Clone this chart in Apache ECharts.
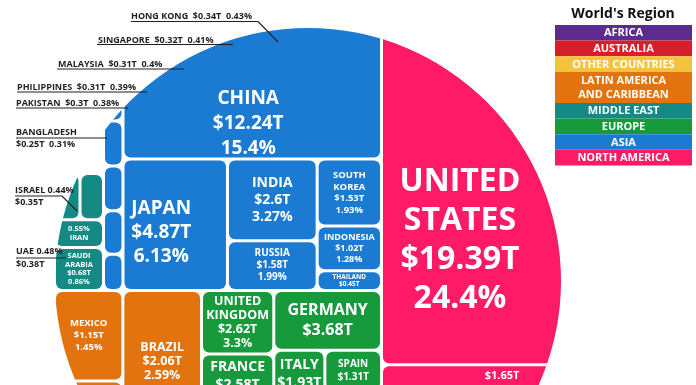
<!DOCTYPE html>
<html><head><meta charset="utf-8">
<script src="https://cdn.jsdelivr.net/npm/echarts@6/dist/echarts.min.js"></script>
<style>html,body{margin:0;padding:0;background:#fff}#c{width:696px;height:385px}</style>
</head><body><div id="c"></div>
<script>
// ---------- DATA (GDP in trillions of US$, share of world GDP in %) ----------
const asiaNames   = ['Hong Kong','Singapore','Malaysia','Philippines','Pakistan','Bangladesh','China','Japan','India','Russia','South Korea','Indonesia','Thailand'];
const asiaValues  = [0.34, 0.32, 0.31, 0.31, 0.30, 0.25, 12.24, 4.87, 2.6, 1.58, 1.53, 1.02, 0.45];
const asiaShares  = [0.43, 0.41, 0.4, 0.39, 0.38, 0.31, 15.4, 6.13, 3.27, 1.99, 1.93, 1.28, 0.57];

const middleEastNames  = ['UAE','Israel','Iran','Saudi Arabia'];
const middleEastValues = [0.38, 0.35, 0.44, 0.68];
const middleEastShares = [0.48, 0.44, 0.55, 0.86];

const latinNames  = ['Mexico','Argentina','Brazil'];
const latinValues = [1.15, 0.64, 2.06];
const latinShares = [1.45, 0.8, 2.59];

const europeNames  = ['United Kingdom','France','Germany','Italy','Spain','Netherlands'];
const europeValues = [2.62, 2.58, 3.68, 1.93, 1.31, 0.83];
const europeShares = [3.3, 3.25, 4.63, 2.44, 1.65, 1.04];

const northAmericaNames  = ['United States','Canada'];
const northAmericaValues = [19.39, 1.65];
const northAmericaShares = [24.4, 2.08];

const legendTitle = "World's Region";
const legendLabels = ['AFRICA','AUSTRALIA','OTHER COUNTRIES','LATIN AMERICA\nAND CARIBBEAN','MIDDLE EAST','EUROPE','ASIA','NORTH AMERICA'];

// ---------- STYLE / LAYOUT ----------
const FONT = "'Open Sans', 'Noto Sans', Arial, sans-serif";
const legendColors = ['#5c2b8f','#d61f2b','#f4c23c','#e2730f','#158a84','#179a3b','#1b7bd3','#fe1a67'];
const C = {asia:'#1b7bd3', me:'#158a84', latin:'#e2730f', europe:'#179a3b', na:'#fe1a67'};
const boxes = {
  asia:  [105, 27, 275, 262],
  me:    [56, 175, 46, 114],
  latin: [56, 292, 144, 138],
  europe:[203, 292, 177, 123],
  na:    [383, 27, 182, 365]
};
const circle = {cx: 308, cy: 281, r: 253};
const displayName = {'United States':'UNITED\nSTATES','United Kingdom':'UNITED\nKINGDOM','South Korea':'SOUTH\nKOREA','Saudi Arabia':'SAUDI\nARABIA'};
const annotated = ['Hong Kong','Singapore','Malaysia','Philippines','Pakistan','Bangladesh','Israel','UAE'];
const labelStyle = {
  'China': {fontSize: 19, lineHeight: 25, offset: [-4, 31]},
  'Japan': {fontSize: 19, lineHeight: 24, offset: [-14, 8]},
  'United States': {fontSize: 32, lineHeight: 39, offset: [-14, 45]},
  'India': {fontSize: 14, lineHeight: 17},
  'Russia': {fontSize: 10, lineHeight: 12},
  'South Korea': {fontSize: 9.5, lineHeight: 11.5},
  'Indonesia': {fontSize: 9, lineHeight: 11},
  'Thailand': {fontSize: 6.5, lineHeight: 6.5},
  'Iran': {fontSize: 7.5, lineHeight: 8.5},
  'Saudi Arabia': {fontSize: 7.5, lineHeight: 8.5},
  'Mexico': {fontSize: 9.5, lineHeight: 12},
  'Argentina': {fontSize: 9, lineHeight: 11},
  'Brazil': {fontSize: 12.5, lineHeight: 14},
  'Germany': {fontSize: 16, lineHeight: 20},
  'United Kingdom': {fontSize: 12.5, lineHeight: 14},
  'France': {fontSize: 14, lineHeight: 18},
  'Italy': {fontSize: 14, lineHeight: 18},
  'Spain': {fontSize: 10, lineHeight: 13},
  'Netherlands': {fontSize: 8, lineHeight: 10},
  'Canada': {fontSize: 11, lineHeight: 13, offset: [28, -3]}
};

function labelText(name, v, s) {
  const n = displayName[name] || name.toUpperCase();
  if (name === 'Iran') return s + '%\n' + n + '\n$' + v + 'T';
  if (name === 'Canada') return '$' + v + 'T\n' + s + '%\n' + n;
  return n + '\n$' + v + 'T\n' + s + '%';
}
function buildData(names, values, shares, color) {
  return names.map((n, i) => ({
    name: n, value: values[i], share: shares[i],
    itemStyle: {color: color},
    label: Object.assign({show: annotated.indexOf(n) < 0}, labelStyle[n] || {})
  }));
}
function treemap(id, data, box) {
  return {
    type: 'treemap', id: id,
    left: box[0], top: box[1], width: box[2], height: box[3],
    sort: false, squareRatio: 1, roam: false, nodeClick: false, animation: false,
    visibleMin: 0, breadcrumb: {show: false},
    itemStyle: {borderWidth: 0, gapWidth: 3, borderColor: '#fff', borderRadius: 6},
    upperLabel: {show: false},
    label: {
      show: true, position: 'inside', color: '#fff', fontFamily: FONT, fontWeight: 'bold',
      overflow: 'none', align: 'center', verticalAlign: 'middle', padding: 0,
      formatter: p => labelText(p.name, p.value, p.data.share)
    },
    emphasis: {disabled: true},
    data: data
  };
}

const allNames = [].concat(asiaNames, middleEastNames);
const allValues = [].concat(asiaValues, middleEastValues);
const allShares = [].concat(asiaShares, middleEastShares);
function vs(name) { const i = allNames.indexOf(name); return {v: allValues[i], s: allShares[i]}; }

// ---------- GRAPHIC: mask, legend, callouts ----------
const INK = '#231f20';
const graphics = [];
graphics.push({type: 'ring', silent: true, z: 100, shape: {cx: circle.cx, cy: circle.cy, r: 1000, r0: circle.r}, style: {fill: '#fff'}});

// legend
graphics.push({type: 'text', z: 110, x: 623, y: 14, style: {text: legendTitle, fill: '#111', font: 'bold 14px ' + FONT, align: 'center', verticalAlign: 'middle', textAlign: 'center', textVerticalAlign: 'middle'}});
let ly = 25;
const unit = 15.6;
legendLabels.forEach((lab, i) => {
  const h = lab.indexOf('\n') >= 0 ? unit * 2 : unit;
  graphics.push({type: 'rect', z: 110, shape: {x: 555, y: ly, width: 137, height: h}, style: {fill: legendColors[i]}});
  graphics.push({type: 'text', z: 111, x: 623.5, y: ly + h / 2 + 0.5, style: {text: lab, fill: '#fff', font: 'bold 11px ' + FONT, lineHeight: 14, align: 'center', verticalAlign: 'middle', textAlign: 'center', textVerticalAlign: 'middle'}});
  ly += h;
});

// callouts for small cells
const callouts = [
  {name: 'Hong Kong', x: 131, y: 16, ul: [131, 258, 21.5], leader: [[258, 21.5], [278, 42]]},
  {name: 'Singapore', x: 98, y: 40, ul: [97, 233, 44.5]},
  {name: 'Malaysia', x: 58, y: 64, ul: [57, 184, 69]},
  {name: 'Philippines', x: 17, y: 87, ul: [17, 147, 92]},
  {name: 'Pakistan', x: 16, y: 103, ul: [16, 128, 108]},
  {name: 'Bangladesh', x: 16, y: 132, y2: 144, ul: [16, 107, 138], split: 'vs'},
  {name: 'Israel', x: 15, y: 190, y2: 202, ul: [15, 62, 196], leader: [[62, 196], [77, 211]], split: 's'},
  {name: 'UAE', x: 16, y: 251, y2: 264, ul: [16, 66, 258], split: 's'}
];
callouts.forEach(c => {
  const d = vs(c.name);
  const N = c.name.toUpperCase();
  let l1, l2 = null;
  if (!c.split) l1 = N + '  $' + d.v + 'T  ' + d.s + '%';
  else if (c.split === 'vs') { l1 = N; l2 = '$' + d.v + 'T  ' + d.s + '%'; }
  else { l1 = N + ' ' + d.s + '%'; l2 = '$' + d.v + 'T'; }
  graphics.push({type: 'text', z: 120, x: c.x, y: c.y, style: {text: l1, fill: INK, font: 'bold 9px ' + FONT, align: 'left', verticalAlign: 'middle', textAlign: 'left', textVerticalAlign: 'middle'}});
  if (l2) graphics.push({type: 'text', z: 120, x: c.x, y: c.y2, style: {text: l2, fill: INK, font: 'bold 9px ' + FONT, align: 'left', verticalAlign: 'middle', textAlign: 'left', textVerticalAlign: 'middle'}});
  graphics.push({type: 'line', z: 120, shape: {x1: c.ul[0], y1: c.ul[2], x2: c.ul[1], y2: c.ul[2]}, style: {stroke: INK, lineWidth: 1.1}});
  if (c.leader) graphics.push({type: 'polyline', z: 120, shape: {points: c.leader}, style: {stroke: INK, lineWidth: 1.1, fill: null}});
});

const chart = echarts.init(document.getElementById('c'), null, {renderer: 'canvas'});
chart.setOption({
  animation: false,
  backgroundColor: '#fff',
  series: [
    treemap('asia', buildData(asiaNames, asiaValues, asiaShares, C.asia), boxes.asia),
    treemap('me', buildData(middleEastNames, middleEastValues, middleEastShares, C.me), boxes.me),
    treemap('latin', buildData(latinNames, latinValues, latinShares, C.latin), boxes.latin),
    treemap('europe', buildData(europeNames, europeValues, europeShares, C.europe), boxes.europe),
    treemap('na', buildData(northAmericaNames, northAmericaValues, northAmericaShares, C.na), boxes.na)
  ],
  graphic: {elements: graphics}
});
</script></body></html>
